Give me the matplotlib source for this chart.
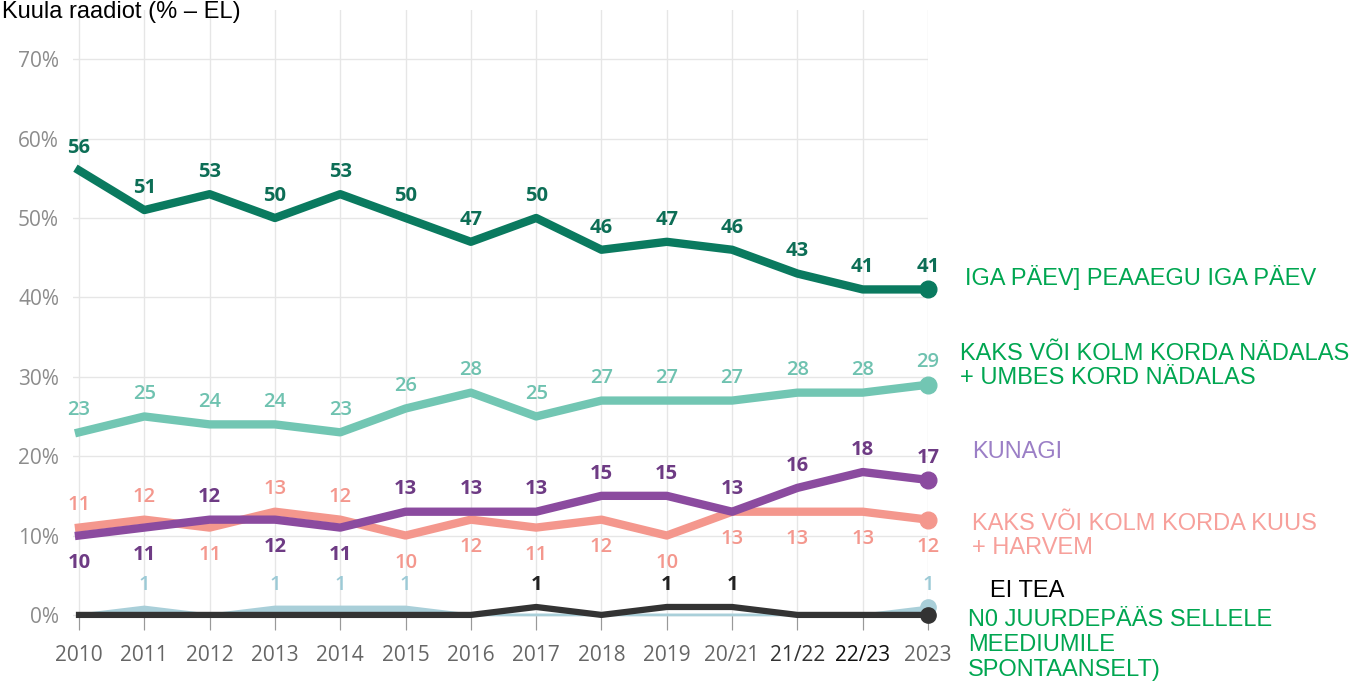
import matplotlib.pyplot as plt

years = ['2010', '2011', '2012', '2013', '2014', '2015', '2016', '2017',
         '2018', '2019', '20/21', '21/22', '22/23', '2023']

daily = [56, 51, 53, 50, 53, 50, 47, 50, 46, 47, 46, 43, 41, 41]
weekly = [23, 25, 24, 24, 23, 26, 28, 25, 27, 27, 27, 28, 28, 29]
never = [10, 11, 12, 12, 11, 13, 13, 13, 15, 15, 13, 16, 18, 17]
monthly = [11, 12, 11, 13, 12, 10, 12, 11, 12, 10, 13, 13, 13, 12]
no_access = [0, 1, 0, 1, 1, 1, 0, 0, 0, 0, 0, 0, 0, 1]
dont_know = [0, 0, 0, 0, 0, 0, 0, 1, 0, 1, 1, 0, 0, 0]

# where the value labels sit: 'a' above, 'b' below, '' none
pos_daily = ['a'] * 14
pos_weekly = ['a'] * 14
pos_never = ['b', 'b', 'a', 'b', 'b', 'a', 'a', 'a', 'a', 'a', 'a', 'a', 'a', 'a']
pos_monthly = ['a', 'a', 'b', 'a', 'a', 'b', 'b', 'b', 'b', 'b', 'b', 'b', 'b', 'b']
pos_noacc = ['', 'a', '', 'a', 'a', 'a', '', '', '', '', '', '', '', 'a']
pos_dk = ['', '', '', '', '', '', '', 'a', '', 'a', 'a', '', '', '']

tickfont = 'Open Sans'
textfont = ['Liberation Sans', 'DejaVu Sans']

fig = plt.figure(figsize=(13.6, 6.86), dpi=100)
ax = fig.add_axes([73 / 1360, 56 / 686, 855 / 1360, 620 / 686])
x = list(range(len(years)))

def labels(vals, pos, color, weight, up=16, down=20):
    for i, v in enumerate(vals):
        if pos[i] == '':
            continue
        off = up if pos[i] == 'a' else -down
        ax.annotate(str(v), (i, v), xytext=(0, off), textcoords='offset points',
                    ha='center', va='center', color=color, fontsize=14.5,
                    fontfamily=tickfont, fontweight=weight,
                    zorder=10, annotation_clip=False)

def endpoint(vals, color, ms, z):
    ax.plot(x[-1], vals[-1], 'o', color=color, ms=ms, zorder=z, clip_on=False)

# no access: light blue area
ax.fill_between(x, no_access, 0, color='#a9cfd9', lw=0, zorder=2)
ax.plot(x, no_access, color='#a9cfd9', lw=2, zorder=2, clip_on=False)
endpoint(no_access, '#a9cfd9', 11, 3)
ax.plot(x, dont_know, color='#333333', lw=4.5, solid_joinstyle='round', zorder=4, clip_on=False)
endpoint(dont_know, '#333333', 11, 4)

ax.plot(x, monthly, color='#f4978d', lw=6, solid_joinstyle='round', zorder=5, clip_on=False)
endpoint(monthly, '#f4978d', 12, 5)
ax.plot(x, never, color='#8b4b9f', lw=6, solid_joinstyle='round', zorder=6, clip_on=False)
endpoint(never, '#8b4b9f', 12, 6)
ax.plot(x, weekly, color='#72c6b3', lw=6, solid_joinstyle='round', zorder=5, clip_on=False)
endpoint(weekly, '#72c6b3', 12, 5)
ax.plot(x, daily, color='#0a7a5f', lw=6, solid_joinstyle='round', zorder=5, clip_on=False)
endpoint(daily, '#0a7a5f', 12, 5)

labels(daily, pos_daily, '#0d6e56', 'bold')
labels(weekly, pos_weekly, '#6fc2b0', 'semibold')
labels(never, pos_never, '#6e3b84', 'bold')
labels(monthly, pos_monthly, '#f4978d', 'semibold')
labels(no_access, pos_noacc, '#9ccad6', 'semibold')
labels(dont_know, pos_dk, '#222222', 'bold')

ax.set_xlim(-0.092, 13)
ax.set_ylim(-1.9, 76.2)
ax.set_yticks([0, 10, 20, 30, 40, 50, 60, 70])
ax.set_yticklabels(['0%', '10%', '20%', '30%', '40%', '50%', '60%', '70%'])
ax.set_xticks(x)
ax.set_xticklabels(years)
for s in ax.spines.values():
    s.set_visible(False)
ax.grid(True, color='#e6e6e6', lw=1, zorder=0)
ax.set_axisbelow(True)
ax.tick_params(axis='y', length=0, pad=10, labelcolor='#8c8c8c', labelsize=15)
ax.tick_params(axis='x', direction='in', length=11, color='#999999', pad=11,
               labelcolor='#666666', labelsize=15)
for t in ax.get_xticklabels() + ax.get_yticklabels():
    t.set_fontfamily(tickfont)
xt = ax.get_xticklabels()
xt[11].set_color('#333333')
xt[12].set_color('#111111')

fig.text(2 / 1360, 1 - 12 / 686, 'Kuula raadiot (% – EL)', fontsize=17,
         family=textfont, va='center', ha='left', color='black')

def side(px, py, s, color):
    fig.text(px / 1360, 1 - py / 686, s, fontsize=17, family=textfont,
             va='center', ha='left', color=color, linespacing=1.15)

side(965, 278, 'IGA PÄEV] PEAAEGU IGA PÄEV', '#00a651')
side(960, 366, 'KAKS VÕI KOLM KORDA NÄDALAS\n+ UMBES KORD NÄDALAS', '#00a651')
side(972, 452, 'KUNAGI', '#9b7fc6')
side(972, 536, 'KAKS VÕI KOLM KORDA KUUS\n+ HARVEM', '#f7a09b')
side(990, 591, 'EI TEA', 'black')
side(968, 645, 'N0 JUURDEPÄÄS SELLELE\nMEEDIUMILE\nSPONTAANSELT)', '#00a651')

fig.savefig('out.png', dpi=100, facecolor='white')
